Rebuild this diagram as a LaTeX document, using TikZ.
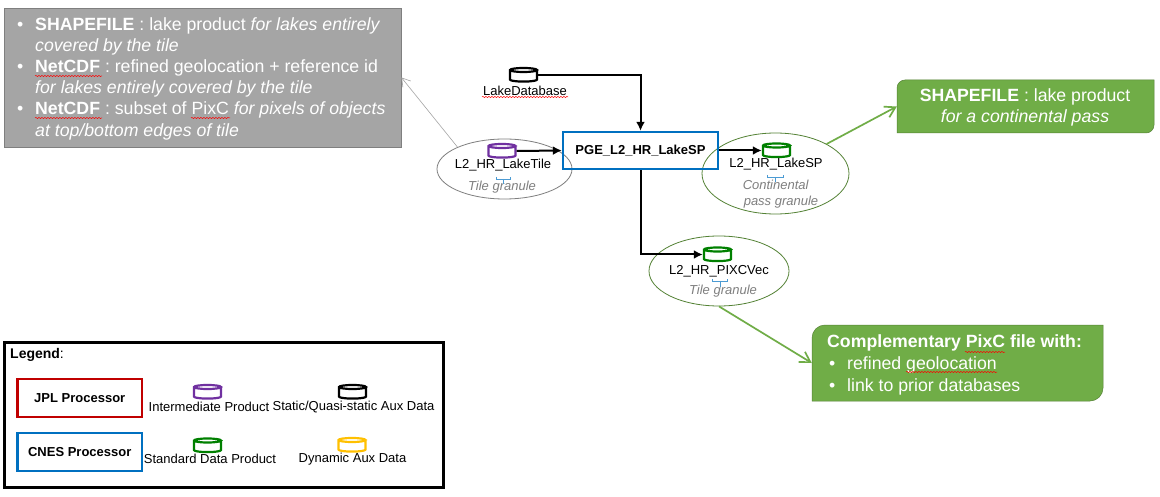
\documentclass[tikz,border=0pt]{standalone}
\usepackage{fontspec}
\setmainfont{Liberation Sans}
\usetikzlibrary{shapes.geometric,arrows.meta,decorations.pathmorphing}
\definecolor{fillColor}{RGB}{255,255,255}
\definecolor{noteColor}{RGB}{165,165,165}
\definecolor{noteLine}{RGB}{127,127,127}
\definecolor{greenBox}{RGB}{112,173,71}
\definecolor{greenLine}{RGB}{84,130,53}
\definecolor{cnesColor}{RGB}{0,112,192}
\definecolor{jplColor}{RGB}{192,0,0}
\definecolor{purpleColor}{RGB}{112,48,160}
\definecolor{stdColor}{RGB}{0,128,0}
\definecolor{yellowColor}{RGB}{255,192,0}
\definecolor{granuleColor}{RGB}{127,127,127}
\tikzset{
  dbase/.style={minimum width=27pt,minimum height=14pt,inner sep=0pt,outer sep=1.2pt},
  dbline/.style={draw=#1,line width=2.2pt},
  procbox/.style={draw=#1,line width=2.4pt,inner sep=0pt,font=\fontsize{13}{15}\selectfont\bfseries},
  granule/.style={ellipse,draw=#1,line width=0.8pt,inner sep=0pt},
  dataname/.style={inner sep=0pt,font=\fontsize{13}{15}\selectfont},
  granulename/.style={inner sep=0pt,text=granuleColor,font=\fontsize{13}{16}\selectfont\itshape},
  flow/.style={draw=black,line width=2pt,-{Latex[length=9pt,width=9pt]}},
  outflow/.style={draw=greenBox,line width=1.7pt,-{Straight Barb[length=10pt,width=12pt]}},
  bodytext/.style={inner sep=0pt,align=left,text=white,font=\fontsize{17.7}{21.2}\selectfont},
  spellmark/.style={draw=red,line width=0.5pt,decorate,decoration={snake,amplitude=0.6pt,segment length=3pt}},
  grammarmark/.style={draw=cnesColor!70,line width=0.6pt}
}
\newcommand{\bulletItem}{\makebox[18pt][l]{\textbullet}}
% name, colour, position
\newcommand{\dataCyl}[3]{%
  \node[dbase] (#1) at (#3) {};
  \draw[dbline=#2] (#1.north west) ++(1.2,3.2) arc[start angle=180,delta angle=360,x radius=13.5pt,y radius=2pt]
    -- ++(0,9.6) arc[start angle=180,delta angle=180,x radius=13.5pt,y radius=2pt] -- ++(0,-9.6);
}
\begin{document}
\begin{tikzpicture}[x=1pt,y=-1pt]
\path[use as bounding box,fill=fillColor] (0,0) rectangle (1160,497);

% note on the tile products
\node[draw=noteLine,fill=noteColor,line width=0.8pt,minimum width=397pt,minimum height=139pt,inner sep=0pt] (tileNote) at (202.5,77.5) {};
\node[bodytext,anchor=north west] (tileNoteText) at (17,17) {%
\bulletItem\textbf{SHAPEFILE} : lake product \textit{for lakes entirely}\\
\hspace*{18pt}\textit{covered by the tile}\\
\bulletItem\textbf{NetCDF} : refined geolocation + reference id\\
\hspace*{18pt}\textit{for lakes entirely covered by the tile}\\
\bulletItem\textbf{NetCDF} : subset of PixC \textit{for pixels of objects}\\
\hspace*{18pt}\textit{at top/bottom edges of tile}};

% granules
\node[granule=granuleColor,minimum width=135pt,minimum height=60pt] (tileGranule) at (504.5,169) {};
\node[granule=greenLine,minimum width=147pt,minimum height=81pt] (spGranule) at (775.5,173.5) {};
\node[granule=greenLine,minimum width=140pt,minimum height=70pt] (vecGranule) at (719,271) {};

% data and processor
\dataCyl{lakeDb}{black}{523.5,75}
\dataCyl{lakeTile}{purpleColor}{502,151}
\dataCyl{lakeSp}{stdColor}{776.5,150.5}
\dataCyl{pixcVec}{stdColor}{717.5,254.5}
\node[procbox=cnesColor,minimum width=155pt,minimum height=37pt] (pgeBox) at (640.5,150.5) {PGE\_L2\_HR\_LakeSP};

\node[dataname] (lakeDbName) at (525,91) {LakeDatabase};
\node[dataname] (lakeTileName) at (503,165) {L2\_HR\_LakeTile};
\node[dataname] (lakeSpName) at (776,164) {L2\_HR\_LakeSP};
\node[dataname] (pixcVecName) at (719,271) {L2\_HR\_PIXCVec};
\node[granulename] (tileLabel) at (502,187) {Tile granule};
\node[granulename,align=left] (spLabel) at (781,194.5) {\hspace*{-1pt}Continental\\pass granule};
\node[granulename] (vecLabel) at (723,291) {Tile granule};

\draw[flow] (lakeDb.east) -| (pgeBox.north);
\draw[flow] (lakeTile.east) -- (pgeBox.west);
\draw[flow] (pgeBox.east) -- (lakeSp.west);
\draw[flow] (pgeBox.south) |- (pixcVec.west);
\draw[draw=noteLine!70,line width=0.6pt,-{Straight Barb[length=8pt,width=10pt]}] (tileGranule.155) -- (tileNote.east);

% output products
\path[fill=greenBox,draw=greenLine,line width=0.5pt]
  (897,133) -- (897,88) arc[start angle=180,end angle=90,radius=8pt] -- (1154,80) -- (1154,125) arc[start angle=0,end angle=-90,radius=8pt] -- cycle;
\node[minimum width=257pt,minimum height=53pt,inner sep=0pt] (spOutput) at (1025.5,106.5) {};
\node[bodytext,align=center] (spOutputText) at (1025,107.5) {\textbf{SHAPEFILE} : lake product\\\textit{for a continental pass}};
\path[fill=greenBox,draw=greenLine,line width=0.5pt]
  (812,401) -- (812,338) arc[start angle=180,end angle=90,radius=13pt] -- (1103,325) -- (1103,388) arc[start angle=0,end angle=-90,radius=13pt] -- cycle;
\node[minimum width=291pt,minimum height=76pt,inner sep=0pt] (vecOutput) at (957.5,363) {};
\node[bodytext,anchor=north west,font=\fontsize{17.7}{22}\selectfont] (vecOutputText) at (829,334) {%
\hspace*{-2pt}\textbf{Complementary PixC file with:}\\
\bulletItem refined geolocation\\
\bulletItem link to prior databases};
\draw[outflow] (spGranule.30) -- (spOutput.west);
\draw[outflow] (vecGranule.south) -- (vecOutput.west);

% legend
\node[draw=black,line width=3pt,minimum width=439.5pt,minimum height=145pt,inner sep=0pt] (legendBox) at (223.75,414.5) {};
\node[dataname,anchor=base west,font=\fontsize{14}{15}\selectfont] (legendTitle) at (10,358) {\textbf{Legend}:};
\node[procbox=jplColor,minimum width=124.5pt,minimum height=38pt] (jplBox) at (79.75,398) {JPL Processor};
\node[procbox=cnesColor,minimum width=124.5pt,minimum height=38pt] (cnesBox) at (79.75,452) {CNES Processor};
\dataCyl{interDb}{purpleColor}{207.5,392}
\dataCyl{staticDb}{black}{352.5,392}
\dataCyl{stdDb}{stdColor}{207.5,445.5}
\dataCyl{dynDb}{yellowColor}{352,445}
\node[dataname] (interName) at (209,407) {Intermediate Product};
\node[dataname] (staticName) at (353.5,407) {Static/Quasi-static Aux Data};
\node[dataname] (stdName) at (210,459) {Standard Data Product};
\node[dataname] (dynName) at (352.5,459) {Dynamic Aux Data};

% proofing marks
\draw[spellmark] (35,76) -- (102,76);
\draw[spellmark] (35,118) -- (102,118);
\draw[spellmark] (191,118) -- (230,118);
\draw[spellmark] (482,97) -- (568,97);
\draw[spellmark] (965,352) -- (1005,352);
\draw[spellmark] (906,372) -- (997,372);
\draw[grammarmark] (496,177) -- (496,179) -- (510,179) -- (510,177) (503,179) -- (503,184);
\draw[grammarmark] (767,175) -- (767,177) -- (783,177) -- (783,175) (775,177) -- (775,182);
\draw[grammarmark] (712,279) -- (712,281) -- (727,281) -- (727,279) (720,281) -- (720,287);
\end{tikzpicture}
\end{document}
